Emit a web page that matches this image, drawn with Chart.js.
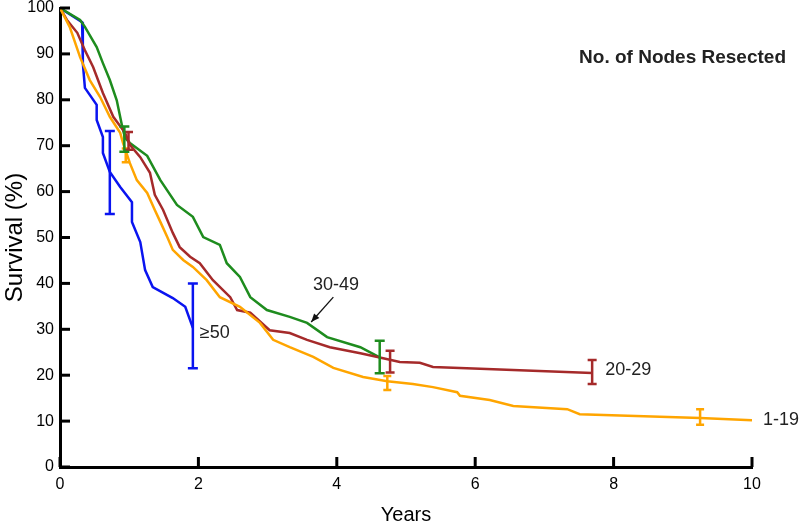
<!DOCTYPE html>
<html>
<head>
<meta charset="utf-8">
<script src="https://cdn.jsdelivr.net/npm/chart.js@4.4.1/dist/chart.umd.min.js"></script>
<style>
  html, body { margin: 0; padding: 0; background: #fff; }
  #wrap { width: 800px; height: 525px; }
</style>
</head>
<body>
<div id="wrap"><canvas id="chart"></canvas></div>
<script>
// Survival curves by number of nodes resected (years, %)
const orangeT = [0, 0.14, 0.29, 0.43, 0.58, 0.72, 0.87, 0.91, 1.01, 1.11, 1.26, 1.37, 1.45, 1.55, 1.63, 1.78, 1.92, 2.12, 2.31, 2.60, 2.89, 3.08, 3.32, 3.66, 3.95, 4.38, 4.73, 5.10, 5.39, 5.74, 5.78, 6.21, 6.55, 7.33, 7.51, 9.25, 10.0];
const orangeS = [100, 95.9, 89.3, 84.3, 80.6, 76.3, 72.8, 70.6, 66.2, 62.5, 59.7, 56.0, 53.4, 50.1, 47.3, 45.1, 43.6, 40.7, 37.0, 34.9, 31.4, 27.7, 26.1, 24.0, 21.6, 19.6, 18.7, 18.1, 17.4, 16.3, 15.5, 14.6, 13.3, 12.6, 11.5, 10.7, 10.2];

const brownT = [0, 0.10, 0.25, 0.36, 0.48, 0.62, 0.77, 0.94, 1.01, 1.16, 1.30, 1.37, 1.49, 1.63, 1.73, 1.88, 2.02, 2.21, 2.46, 2.56, 2.75, 3.03, 3.32, 3.57, 3.90, 4.34, 4.67, 4.91, 5.20, 5.39, 6.07, 7.69];
const brownS = [100, 97.4, 94.6, 90.8, 87.1, 81.5, 76.3, 72.8, 70.2, 67.5, 64.1, 59.3, 56.0, 51.0, 47.9, 45.8, 44.4, 40.7, 37.0, 34.2, 33.6, 29.8, 29.2, 27.7, 26.1, 24.8, 23.7, 22.9, 22.7, 21.8, 21.4, 20.5];

const greenT = [0, 0.29, 0.36, 0.53, 0.62, 0.72, 0.82, 0.90, 0.94, 1.01, 1.26, 1.45, 1.69, 1.92, 2.07, 2.31, 2.41, 2.60, 2.75, 2.99, 3.32, 3.57, 3.86, 4.34, 4.62];
const greenS = [100, 97.4, 95.9, 91.5, 88.0, 84.3, 79.9, 74.1, 71.7, 70.6, 67.8, 62.5, 57.1, 54.5, 50.1, 48.4, 44.4, 41.4, 37.0, 34.2, 32.7, 31.4, 28.3, 26.1, 23.9];

const blueT = [0, 0.32, 0.33, 0.36, 0.53, 0.53, 0.62, 0.62, 0.72, 0.87, 1.04, 1.04, 1.16, 1.23, 1.34, 1.63, 1.81, 1.92];
const blueS = [100, 96.9, 88.0, 82.6, 78.9, 75.6, 71.9, 68.4, 64.3, 61.0, 57.7, 53.4, 49.0, 42.9, 39.2, 36.8, 34.9, 30.3];

// confidence bars
const orangeErrT = [0.95, 4.73, 9.25];
const orangeErrLo = [66.4, 16.8, 9.2];
const orangeErrHi = [69.4, 19.8, 12.6];
const brownErrT = [0.99, 4.77, 7.69];
const brownErrLo = [69.1, 20.6, 18.1];
const brownErrHi = [73.0, 25.3, 23.3];
const greenErrT = [0.93, 4.62];
const greenErrLo = [68.7, 20.4];
const greenErrHi = [74.2, 27.5];
const blueErrT = [0.72, 1.92];
const blueErrLo = [55.1, 21.5];
const blueErrHi = [73.2, 40.0];

const xTicks = [0, 2, 4, 6, 8, 10];
const yTicks = [0, 10, 20, 30, 40, 50, 60, 70, 80, 90, 100];

const groupLabels = ['1-19', '20-29', '30-49', '\u226550'];
const colors = ['#ffa500', '#a52a2a', '#1e8c1e', '#0a14f0'];

function pts(t, s) {
    return t.map((v, i) => ({ x: v, y: s[i] }));
}

const series = [
    { t: orangeT, s: orangeS, eT: orangeErrT, eLo: orangeErrLo, eHi: orangeErrHi, cap: 8 },
    { t: brownT, s: brownS, eT: brownErrT, eLo: brownErrLo, eHi: brownErrHi, cap: 9 },
    { t: greenT, s: greenS, eT: greenErrT, eLo: greenErrLo, eHi: greenErrHi, cap: 10 },
    { t: blueT, s: blueS, eT: blueErrT, eLo: blueErrLo, eHi: blueErrHi, cap: 10 }
];

// label anchors in data units (left edge, middle)
const labelPos = [
    { x: 10.16, y: 10.2 },
    { x: 7.88, y: 21.1 },
    null,
    { x: 2.02, y: 29.2 }
];

const tickFont = { family: '"Liberation Sans Narrow", "Arial Narrow", "Liberation Sans", Arial, sans-serif', size: 16 };

const extras = {
    id: 'extras',
    afterDatasetsDraw(chart) {
        const ctx = chart.ctx;
        const xs = chart.scales.x, ys = chart.scales.y;
        const area = chart.chartArea;
        ctx.save();

        // error bars
        series.forEach((sr, k) => {
            ctx.strokeStyle = colors[k];
            ctx.lineWidth = 2.5;
            sr.eT.forEach((t, i) => {
                const px = xs.getPixelForValue(t);
                const top = ys.getPixelForValue(sr.eHi[i]);
                const bot = ys.getPixelForValue(sr.eLo[i]);
                ctx.beginPath();
                ctx.moveTo(px, top); ctx.lineTo(px, bot);
                ctx.moveTo(px - sr.cap / 2, top); ctx.lineTo(px + sr.cap / 2, top);
                ctx.moveTo(px - sr.cap / 2, bot); ctx.lineTo(px + sr.cap / 2, bot);
                ctx.stroke();
            });
        });

        // inside tick marks
        ctx.strokeStyle = '#000';
        ctx.lineWidth = 3;
        yTicks.forEach(v => {
            const py = ys.getPixelForValue(v);
            ctx.beginPath();
            ctx.moveTo(area.left, py); ctx.lineTo(area.left + 10, py);
            ctx.stroke();
        });
        xTicks.forEach(v => {
            const px = xs.getPixelForValue(v);
            ctx.beginPath();
            ctx.moveTo(px, area.bottom); ctx.lineTo(px, area.bottom - 10);
            ctx.stroke();
        });

        // group labels
        ctx.fillStyle = '#222';
        ctx.font = '18px "Liberation Sans", Arial, sans-serif';
        ctx.textAlign = 'left';
        ctx.textBaseline = 'middle';
        labelPos.forEach((p, k) => {
            if (!p) return;
            ctx.fillText(groupLabels[k], xs.getPixelForValue(p.x), ys.getPixelForValue(p.y));
        });
        ctx.textAlign = 'center';
        ctx.fillText(groupLabels[2], xs.getPixelForValue(3.99), ys.getPixelForValue(39.7));

        // arrow to 30-49 curve
        const ax0 = xs.getPixelForValue(3.95), ay0 = ys.getPixelForValue(37.0);
        const ax1 = xs.getPixelForValue(3.63), ay1 = ys.getPixelForValue(31.6);
        ctx.strokeStyle = '#111';
        ctx.lineWidth = 1.3;
        ctx.beginPath();
        ctx.moveTo(ax0, ay0); ctx.lineTo(ax1, ay1);
        ctx.stroke();
        const ang = Math.atan2(ay1 - ay0, ax1 - ax0);
        ctx.fillStyle = '#111';
        ctx.beginPath();
        ctx.moveTo(ax1, ay1);
        ctx.lineTo(ax1 - 9 * Math.cos(ang - 0.4), ay1 - 9 * Math.sin(ang - 0.4));
        ctx.lineTo(ax1 - 9 * Math.cos(ang + 0.4), ay1 - 9 * Math.sin(ang + 0.4));
        ctx.closePath();
        ctx.fill();

        // legend title
        ctx.fillStyle = '#222';
        ctx.font = 'bold 19px "Liberation Sans", Arial, sans-serif';
        ctx.textAlign = 'right';
        ctx.fillText('No. of Nodes Resected', 786, 58);
        ctx.restore();
    }
};

new Chart(document.getElementById('chart'), {
    type: 'line',
    data: {
        datasets: series.map((sr, k) => ({
            label: groupLabels[k],
            data: pts(sr.t, sr.s),
            borderColor: colors[k],
            borderWidth: 2.5,
            pointRadius: 0,
            tension: 0,
            fill: false
        }))
    },
    options: {
        responsive: true,
        maintainAspectRatio: false,
        animation: false,
        layout: { padding: { left: 0, right: 48, top: 8, bottom: 0 } },
        plugins: {
            legend: { display: false },
            tooltip: { enabled: false }
        },
        scales: {
            x: {
                type: 'linear',
                min: 0, max: 10,
                afterBuildTicks: s => { s.ticks = xTicks.map(v => ({ value: v })); },
                afterFit: s => { s.height = 58; s.paddingLeft = 0; s.paddingRight = 0; },
                grid: { drawOnChartArea: false, drawTicks: false },
                border: { display: true, color: '#000', width: 3 },
                ticks: { padding: 8, color: '#000', font: tickFont },
                title: {
                    display: true,
                    text: 'Years',
                    color: '#000',
                    padding: { top: 0, bottom: 0 },
                    font: { family: '"Liberation Sans", Arial, sans-serif', size: 20, lineHeight: 1 }
                }
            },
            y: {
                min: 0, max: 100,
                afterBuildTicks: s => { s.ticks = yTicks.map(v => ({ value: v })); },
                afterFit: s => { s.width = 60; s.paddingTop = 0; s.paddingBottom = 0; },
                grid: { drawOnChartArea: false, drawTicks: false },
                border: { display: true, color: '#000', width: 3 },
                ticks: { padding: 6, color: '#000', font: tickFont },
                title: {
                    display: true,
                    text: 'Survival (%)',
                    color: '#000',
                    padding: { top: 3, bottom: 0 },
                    font: { family: '"Liberation Sans", Arial, sans-serif', size: 24, lineHeight: 1 }
                }
            }
        }
    },
    plugins: [extras]
});
</script>
</body>
</html>
